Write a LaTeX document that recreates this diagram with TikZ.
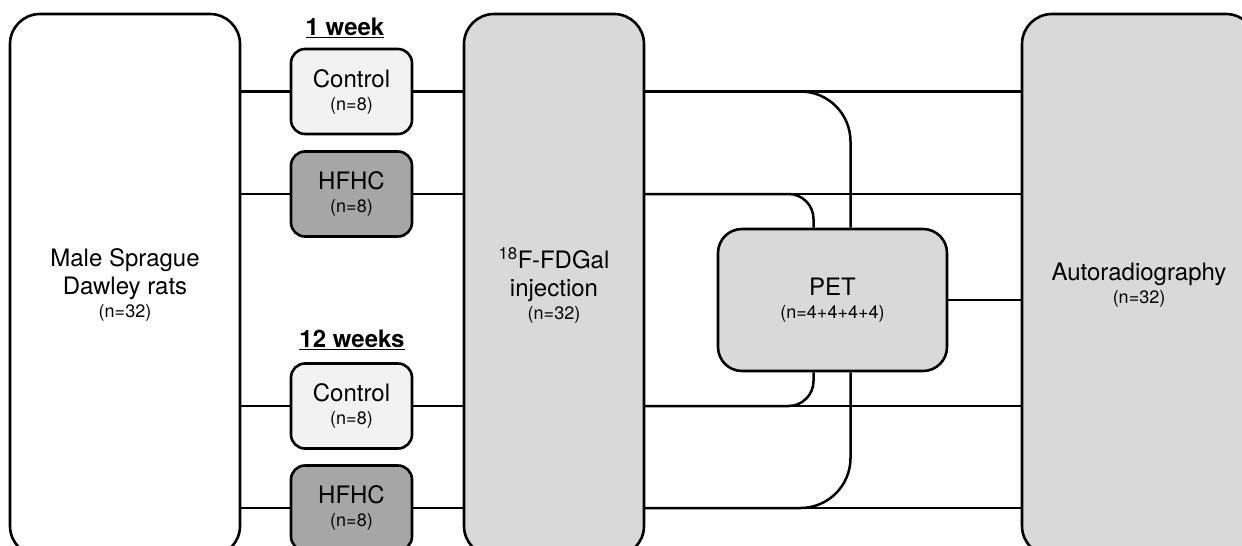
\documentclass[tikz,border=0pt]{standalone}
\usepackage{fontspec}
\setmainfont{TeX Gyre Heros}
\usetikzlibrary{positioning}
\definecolor{lightbox}{HTML}{F2F2F2}
\definecolor{darkbox}{HTML}{A6A6A6}
\definecolor{midbox}{HTML}{D9D9D9}
\newcommand{\ncount}[1]{{\fontsize{18}{20}\selectfont (n=#1)}}

\begin{document}
\begin{tikzpicture}[x=1pt, y=-1pt,
bignode/.style={rectangle, draw=black, line width=2.6pt, rounded corners=30pt, minimum height=542pt, inner sep=0pt, align=center, font=\fontsize{24}{28}\selectfont},
groupnode/.style={rectangle, draw=black, line width=2.6pt, rounded corners=14pt, minimum width=121pt, minimum height=85pt, inner sep=0pt, align=center, font=\fontsize{24}{28}\selectfont},
titlenode/.style={font=\fontsize{24}{28}\selectfont\bfseries, inner sep=0pt},
link/.style={line width=2.5pt},
]
\useasboundingbox (0,0) rectangle (1242,546);
\clip (0,0) rectangle (1242,546);

%Nodes
\node[bignode, minimum width=230pt, fill=white] (rats) at (125,285) {Male Sprague\\Dawley rats\\[-5pt]\ncount{32}};
\node[bignode, minimum width=180pt, fill=midbox] (inj) at (554,285) {\textsuperscript{18}F-FDGal\\injection\\[-5pt]\ncount{32}};
\node[bignode, minimum width=234pt, fill=midbox] (auto) at (1139,285) {Autoradiography\\[-5pt]\ncount{32}};
\node[bignode, minimum width=229pt, minimum height=142pt, rounded corners=24pt, fill=midbox] (pet) at (832.5,300) {PET\\[-5pt]\ncount{4+4+4+4}};

\node[titlenode] (week1) at (345,28) {\underline{1 week}};
\node[groupnode, fill=lightbox] (ctrl1) at (351.5,91.5) {Control\\[-5pt]\ncount{8}};
\node[groupnode, fill=darkbox] (hfhc1) at (351.5,194) {HFHC\\[-5pt]\ncount{8}};
\node[titlenode] (week12) at (352,340) {\underline{12 weeks}};
\node[groupnode, fill=lightbox] (ctrl12) at (351.5,406) {Control\\[-5pt]\ncount{8}};
\node[groupnode, fill=darkbox] (hfhc12) at (351.5,508) {HFHC\\[-5pt]\ncount{8}};

%Lines
\draw[link] (rats.east |- ctrl1.west) -- (ctrl1.west);
\draw[link] (rats.east |- hfhc1.west) -- (hfhc1.west);
\draw[link] (rats.east |- ctrl12.west) -- (ctrl12.west);
\draw[link] (rats.east |- hfhc12.west) -- (hfhc12.west);
\draw[link] (ctrl1.east) -- (inj.west |- ctrl1.east);
\draw[link] (hfhc1.east) -- (inj.west |- hfhc1.east);
\draw[link] (ctrl12.east) -- (inj.west |- ctrl12.east);
\draw[link] (hfhc12.east) -- (inj.west |- hfhc12.east);
\draw[link] (inj.east |- ctrl1.east) -- (auto.west |- ctrl1.east);
\draw[link] (inj.east |- hfhc1.east) -- (auto.west |- hfhc1.east);
\draw[link] (inj.east |- ctrl12.east) -- (auto.west |- ctrl12.east);
\draw[link] (inj.east |- hfhc12.east) -- (auto.west |- hfhc12.east);
\draw[link, rounded corners=50pt] (inj.east |- ctrl1.east) -| ([xshift=18pt]pet.north);
\draw[link, rounded corners=25pt] (inj.east |- hfhc1.east) -| ([xshift=-19pt]pet.north);
\draw[link, rounded corners=25pt] (inj.east |- ctrl12.east) -| ([xshift=-19pt]pet.south);
\draw[link, rounded corners=50pt] (inj.east |- hfhc12.east) -| ([xshift=18pt]pet.south);
\draw[link] (pet.east) -- (auto.west |- pet.east);

\end{tikzpicture}
\end{document}
